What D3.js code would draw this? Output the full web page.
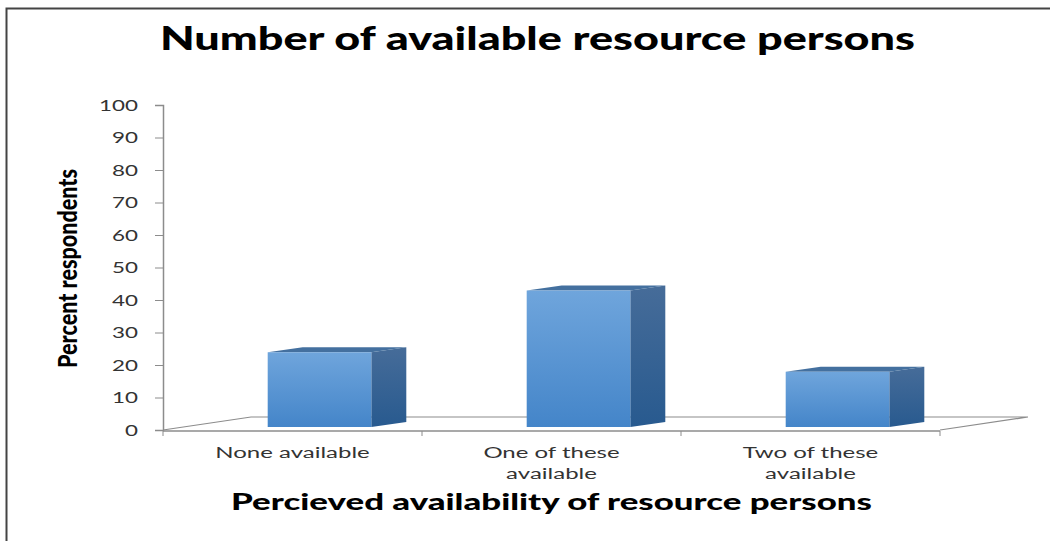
<!DOCTYPE html>
<html>
<head>
<meta charset="utf-8">
<script src="https://cdn.jsdelivr.net/npm/d3@7"></script>
<style>
  html, body { margin: 0; padding: 0; background: #fff; }
  svg { display: block; }
  .tick text { font-family: Lato, sans-serif; }
</style>
</head>
<body>
<div id="chart"></div>
<script>
const categories = ["None available", "One of these available", "Two of these available"];
const values = [23, 42, 17];
const yTicks = [0, 10, 20, 30, 40, 50, 60, 70, 80, 90, 100];

const title = "Number of available resource persons";
const xTitle = "Percieved availability of resource persons";
const yTitle = "Percent respondents";

const width = 1050, height = 541;
const plotLeft = 163, plotRight = 940, plotTop = 105, plotBottom = 430;
const axisColor = "#8c8c8c";

// oblique offsets of the 3d floor and of the bars
const floorDx = 88, floorDy = -13;
const barDx = 35, barDy = -5;
const barShiftX = 27, barShiftY = -3;

const svg = d3.select("#chart").append("svg")
  .attr("width", width)
  .attr("height", height);

const defs = svg.append("defs");
function gradient(id, c1, c2) {
  const g = defs.append("linearGradient").attr("id", id)
    .attr("x1", 0).attr("y1", 0).attr("x2", 0).attr("y2", 1);
  g.append("stop").attr("offset", "0%").attr("stop-color", c1);
  g.append("stop").attr("offset", "100%").attr("stop-color", c2);
}
gradient("front", "#6fa5dc", "#4485c9");
gradient("side", "#466c99", "#285a8f");

// frame of the pasted picture, open at right and bottom
svg.append("path")
  .attr("d", `M6.5,${height}V8.5H${width}`)
  .attr("fill", "none")
  .attr("stroke", "#444")
  .attr("stroke-width", 2);

const x = d3.scaleBand().domain(categories).range([plotLeft, plotRight])
  .paddingInner(0.6).paddingOuter(0.3);
const y = d3.scaleLinear().domain([0, 100]).range([plotBottom, plotTop]);

// floor
svg.append("path")
  .attr("d", `M${plotLeft},${plotBottom}L${plotLeft + floorDx},${plotBottom + floorDy}H${plotRight + floorDx}L${plotRight},${plotBottom}`)
  .attr("fill", "none")
  .attr("stroke", axisColor)
  .attr("stroke-width", 1.2);

// y axis
const yAxis = svg.append("g")
  .attr("transform", `translate(${plotLeft},0)`)
  .call(d3.axisLeft(y).tickValues(yTicks).tickSize(8).tickPadding(7));
yAxis.selectAll("line").attr("stroke", axisColor);
yAxis.select(".domain").attr("stroke", axisColor).attr("stroke-width", 1.5);
// the source picture is stretched sideways, so the labels are too
yAxis.selectAll("text")
  .attr("font-size", 16)
  .attr("fill", "#333")
  .attr("x", 0)
  .attr("transform", "translate(-25,0) scale(1.4,1)");

// x axis, ticks sit on the band edges
svg.append("line")
  .attr("x1", plotLeft).attr("x2", plotRight)
  .attr("y1", plotBottom + 1).attr("y2", plotBottom + 1)
  .attr("stroke", axisColor).attr("stroke-width", 1.5);
const step = x.step();
svg.append("g").selectAll("line")
  .data(d3.range(categories.length + 1))
  .join("line")
  .attr("x1", d => plotLeft + d * step)
  .attr("x2", d => plotLeft + d * step)
  .attr("y1", plotBottom + 1)
  .attr("y2", plotBottom + 6)
  .attr("stroke", axisColor);

// bars
const bars = svg.append("g").selectAll("g")
  .data(categories.map((c, i) => ({ c, v: values[i] })))
  .join("g")
  .attr("transform", d => `translate(${x(d.c) + barShiftX},${barShiftY})`);

const bw = x.bandwidth();
bars.append("path") // side
  .attr("d", d => `M${bw},${y(d.v)}l${barDx},${barDy}V${plotBottom + barDy}l${-barDx},${-barDy}Z`)
  .attr("fill", "url(#side)");
bars.append("path") // top
  .attr("d", d => `M0,${y(d.v)}l${barDx},${barDy}h${bw}l${-barDx},${-barDy}Z`)
  .attr("fill", "#44709f");
bars.append("rect") // front
  .attr("x", 0)
  .attr("y", d => y(d.v))
  .attr("width", bw)
  .attr("height", d => plotBottom - y(d.v))
  .attr("fill", "url(#front)");

// category labels
const catLines = [["None available"], ["One of these", "available"], ["Two of these", "available"]];
categories.forEach((c, i) => {
  catLines[i].forEach((line, j) => {
    svg.append("text")
      .attr("transform", `translate(${plotLeft + (i + 0.5) * step},${458 + j * 21}) scale(1.5,1)`)
      .attr("text-anchor", "middle")
      .attr("font-family", "Lato, sans-serif")
      .attr("font-size", 16)
      .attr("fill", "#333")
      .text(line);
  });
});

// titles
svg.append("text")
  .attr("x", 160).attr("y", 50)
  .attr("font-family", "Lato, sans-serif")
  .attr("font-weight", 900)
  .attr("font-size", 33)
  .attr("textLength", 755)
  .attr("lengthAdjust", "spacingAndGlyphs")
  .attr("fill", "#000")
  .text(title);

svg.append("text")
  .attr("x", 231).attr("y", 510)
  .attr("font-family", "Lato, sans-serif")
  .attr("font-weight", 900)
  .attr("font-size", 22)
  .attr("textLength", 641)
  .attr("lengthAdjust", "spacingAndGlyphs")
  .attr("fill", "#000")
  .text(xTitle);

svg.append("text")
  .attr("transform", "translate(77,368) rotate(-90)")
  .attr("font-family", "Lato, sans-serif")
  .attr("font-weight", 900)
  .attr("font-size", 26)
  .attr("textLength", 199)
  .attr("lengthAdjust", "spacingAndGlyphs")
  .attr("fill", "#000")
  .text(yTitle);
</script>
</body>
</html>
